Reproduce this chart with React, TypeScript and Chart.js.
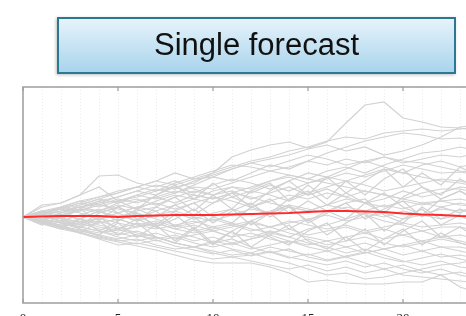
import React, { useEffect, useRef } from "react";
import { Chart, registerables } from "chart.js";

Chart.register(...registerables);

const STEPS = [0, 1, 2, 3, 4, 5, 6, 7, 8, 9, 10, 11, 12, 13, 14, 15, 16, 17, 18, 19, 20, 21, 22, 23, 24];
const TICK_LABELS = [0, 5, 10, 15, 20];
const TITLE = "Single forecast";

const FORECAST = [0, 0.5, 1, 1, 1, 0, 1, 1.5, 2, 2, 2, 2.5, 3, 3.5, 4, 5, 6, 6, 5.5, 5, 3.5, 2.5, 2, 1, 0.5];

const PATHS: number[][] = [
  [0, 3, 6, 10, 14, 16, 20, 26, 30, 34, 44, 60, 67, 72, 75, 69, 75, 94, 112, 115, 99, 95, 90, 89, 86],
  [0, 12, 14, 22, 41, 42, 34, 30, 36, 28, 22, 26, 18, 24, 30, 22, 28, 20, 14, 18, 26, 20, 24, 30, 28],
  [0, 2, 10, 16, 20, 24, 30, 36, 44, 38, 40, 48, 54, 58, 62, 68, 72, 66, 70, 62, 66, 72, 80, 90, 92],
  [0, 6, 4, 12, 18, 14, 22, 28, 24, 32, 40, 36, 44, 52, 48, 56, 64, 70, 76, 80, 84, 82, 78, 79, 74],
  [0, -2, 4, 8, 6, 14, 18, 12, 20, 26, 22, 30, 28, 36, 42, 38, 46, 50, 44, 52, 58, 64, 66, 70, 66],
  [0, 4, 10, 6, 14, 20, 26, 22, 30, 24, 32, 38, 34, 28, 36, 44, 40, 48, 56, 60, 54, 58, 62, 60, 64],
  [0, 5, 2, -2, 6, 12, 8, 16, 22, 18, 26, 30, 24, 32, 26, 34, 40, 36, 42, 48, 44, 52, 56, 50, 54],
  [0, -3, 2, 8, 4, 10, 16, 20, 14, 22, 18, 24, 30, 36, 40, 34, 38, 44, 40, 46, 52, 48, 44, 45, 42],
  [0, 10, 14, 22, 30, 16, 8, 22, 32, 18, 34, 20, 12, 26, 36, 22, 40, 24, 36, 48, 30, 44, 32, 50, 40],
  [0, 2, -4, 2, 8, 4, 10, 6, 12, 18, 14, 20, 26, 22, 16, 24, 30, 36, 32, 26, 30, 34, 38, 36, 32],
  [0, -6, 0, 8, 16, 4, -4, 10, 20, 6, 22, 8, 26, 34, 16, 32, 18, 36, 22, 38, 48, 30, 22, 38, 28],
  [0, 4, 8, 4, -2, 4, 10, 14, 8, 14, 20, 16, 10, 16, 22, 18, 24, 20, 26, 22, 18, 24, 28, 28, 24],
  [0, -4, -10, -2, 6, -4, 8, 0, 12, 2, 14, 24, 10, 4, 18, 26, 12, 24, 14, 4, 20, 30, 18, 26, 16],
  [0, 6, -2, 8, -4, 10, 2, -8, 6, 14, 0, -6, 10, 18, 4, 16, 6, -2, 14, 24, 10, 2, 18, 26, 14],
  [0, -5, -1, -6, -2, 2, -4, 2, 6, 0, -4, 2, 8, 4, 10, 6, 12, 18, 14, 10, 16, 12, 16, 18, 14],
  [0, 2, 6, 10, 6, 0, 6, 10, 4, -2, 4, 8, 2, 6, 12, 8, 4, 10, 6, 12, 8, 14, 10, 14, 10],
  [0, -6, -12, -2, -14, -4, 4, -10, -2, 8, -6, 6, 14, 0, 10, -4, 6, 14, -2, 8, 16, 0, 10, 4, 14],
  [0, 6, -2, -8, 4, 10, -2, -10, 2, -12, 0, 8, -8, 4, 12, -6, 4, 14, 18, 2, -6, 10, -2, 8, 0],
  [0, -2, 2, -2, -6, -2, -8, -4, -10, -6, -2, -8, -4, -10, -6, -2, 2, -4, 0, 4, -2, 2, -2, 2, -2],
  [0, 4, -6, -10, 0, -12, -2, 6, -10, 0, -14, -20, -4, 4, -12, -2, -18, -6, 4, -14, -2, 8, -8, 2, -10],
  [0, -4, -8, -4, -10, -14, -10, -6, -12, -8, -14, -10, -6, -10, -4, -8, -12, -8, -14, -10, -6, -10, -8, -6, -10],
  [0, -2, -6, -10, -6, -2, -8, -12, -8, -14, -10, -6, -12, -16, -12, -18, -14, -10, -16, -12, -18, -14, -10, -10, -14],
  [0, -8, 0, -12, -18, -6, -20, -8, -24, -10, -26, -14, -4, -20, -28, -14, -6, -24, -12, -28, -14, -4, -20, -10, -22],
  [0, 3, -1, -5, -1, -6, -10, -6, -12, -16, -12, -8, -14, -10, -16, -20, -24, -20, -16, -22, -18, -24, -20, -18, -22],
  [0, -2, -10, -16, -4, -18, -6, -20, -26, -12, -28, -14, -30, -18, -8, -24, -32, -20, -34, -22, -12, -28, -16, -26, -32],
  [0, -6, -10, -6, -12, -16, -20, -16, -22, -18, -14, -20, -16, -22, -26, -22, -28, -24, -20, -26, -30, -26, -22, -26, -30],
  [0, -2, -6, -12, -16, -12, -18, -22, -18, -24, -20, -26, -22, -18, -24, -28, -24, -30, -26, -32, -28, -24, -30, -30, -34],
  [0, -4, -10, -14, -18, -22, -18, -24, -20, -26, -30, -26, -32, -28, -24, -30, -34, -30, -36, -32, -28, -34, -30, -34, -38],
  [0, -6, -4, -10, -14, -20, -24, -20, -26, -30, -26, -32, -36, -30, -34, -38, -34, -40, -36, -32, -38, -34, -40, -38, -42],
  [0, -3, -9, -13, -19, -23, -27, -23, -29, -33, -37, -33, -39, -35, -41, -37, -43, -39, -35, -41, -45, -41, -37, -42, -46],
  [0, -5, -11, -15, -21, -25, -29, -33, -38, -43, -46, -46, -46, -50, -56, -65, -63, -66, -67, -67, -65, -65, -58, -70, -76],
  [0, -4, -8, -16, -22, -28, -26, -30, -34, -38, -42, -40, -44, -48, -52, -48, -54, -50, -56, -52, -48, -54, -58, -55, -60],
  [0, -7, -12, -16, -20, -24, -22, -28, -32, -30, -36, -40, -38, -34, -40, -44, -48, -44, -50, -46, -52, -56, -52, -58, -62],
  [0, 3, 8, 14, 10, 16, 22, 18, 24, 30, 28, 34, 40, 46, 50, 56, 52, 58, 54, 60, 56, 54, 50, 46, 44],
  [0, -2, 4, 10, 16, 20, 26, 32, 28, 36, 42, 48, 54, 50, 56, 62, 58, 52, 56, 50, 44, 40, 36, 34, 30],
  [0, 6, 10, 16, 12, 18, 14, 20, 26, 22, 18, 24, 20, 14, 10, 6, 12, 8, 2, -4, -8, -14, -20, -24, -28],
  [0, -4, 2, 6, 12, 8, 4, -2, -8, -4, -10, -16, -20, -14, -20, -26, -30, -36, -32, -38, -44, -48, -44, -50, -52],
  [0, 2, -4, -8, -4, -10, -16, -20, -26, -30, -24, -28, -22, -16, -20, -12, -8, -2, 4, 0, 6, 2, 8, 6, 10],
  [0, -3, -6, -2, -8, -12, -6, -10, -16, -20, -26, -22, -30, -36, -32, -40, -44, -40, -46, -52, -58, -60, -62, -64, -66],
  [0, 4, 8, 12, 18, 24, 30, 26, 34, 40, 46, 52, 50, 46, 42, 38, 34, 30, 26, 22, 18, 14, 16, 12, 10],
  [0, -2, -6, -10, -14, -18, -14, -20, -26, -30, -34, -38, -36, -42, -46, -52, -58, -56, -62, -60, -56, -52, -48, -46, -42],
  [0, 5, 9, 14, 20, 26, 30, 36, 32, 38, 44, 50, 56, 60, 66, 70, 76, 80, 78, 84, 86, 88, 86, 88, 90],
];

const FRAME_COLOR = "#9d9d9d";

const framePlugin = {
  id: "frame",
  afterDraw(chart: any) {
    const { ctx, chartArea, scales } = chart;
    const { left, top, right, bottom } = chartArea;
    ctx.save();
    ctx.strokeStyle = FRAME_COLOR;
    ctx.lineWidth = 1.5;
    ctx.strokeRect(left, top, right - left, bottom - top);
    ctx.lineWidth = 1.2;
    for (const v of TICK_LABELS) {
      const px = scales.x.getPixelForValue(v);
      ctx.beginPath();
      ctx.moveTo(px, top);
      ctx.lineTo(px, top + 4);
      ctx.moveTo(px, bottom);
      ctx.lineTo(px, bottom - 4);
      ctx.stroke();
    }
    ctx.restore();
  },
};

export default function App() {
  const ref = useRef<HTMLCanvasElement>(null);

  useEffect(() => {
    const toXY = (vals: number[]) => vals.map((v, i) => ({ x: STEPS[i], y: v }));
    const datasets: any[] = [
      {
        data: toXY(FORECAST),
        borderColor: "#ff2a2a",
        borderWidth: 2,
        pointRadius: 0,
        tension: 0,
      },
      ...PATHS.map((p) => ({
        data: toXY(p),
        borderColor: "#d2d2d2",
        borderWidth: 1.2,
        pointRadius: 0,
        tension: 0,
      })),
    ];
    const chart = new Chart(ref.current!, {
      type: "line",
      data: { datasets },
      plugins: [framePlugin],
      options: {
        animation: false,
        responsive: false,
        devicePixelRatio: 1,
        layout: { padding: { left: 23, top: 87, right: 21, bottom: 0 } },
        plugins: { legend: { display: false }, tooltip: { enabled: false } },
        scales: {
          x: {
            type: "linear",
            min: 0,
            max: 24,
            afterFit: (s: any) => {
              s.height = 27;
            },
            grid: { color: "#ededed", lineWidth: 1, drawTicks: false },
            border: { display: false, dash: [1, 2] },
            ticks: {
              stepSize: 1,
              autoSkip: false,
              maxRotation: 0,
              padding: 8,
              color: "#222",
              font: { family: "'Liberation Serif', serif", size: 13 },
              callback: (v: any) => (TICK_LABELS.includes(Number(v)) ? String(v) : ""),
            },
          },
          y: {
            display: false,
            min: -86,
            max: 130,
          },
        },
      },
    });
    return () => chart.destroy();
  }, []);

  return (
    <div
      style={{
        position: "absolute",
        left: 0,
        top: 0,
        width: 466,
        height: 316,
        overflow: "hidden",
        background: "#fff",
      }}
    >
      <canvas
        ref={ref}
        width={500}
        height={330}
        style={{ position: "absolute", left: 0, top: 0, width: 500, height: 330 }}
      />
      <div
        style={{
          position: "absolute",
          left: 57,
          top: 17,
          width: 399,
          height: 57,
          boxSizing: "border-box",
          border: "2px solid #2b7892",
          background: "linear-gradient(to bottom, #e6f3fb, #a9d4ec)",
          boxShadow: "-1px 1px 3px rgba(0,0,0,0.25)",
          display: "flex",
          alignItems: "center",
          justifyContent: "center",
          paddingBottom: 2,
          fontFamily: "'Liberation Sans', Arial, sans-serif",
          fontSize: 31,
          color: "#111",
        }}
      >
        {TITLE}
      </div>
    </div>
  );
}
